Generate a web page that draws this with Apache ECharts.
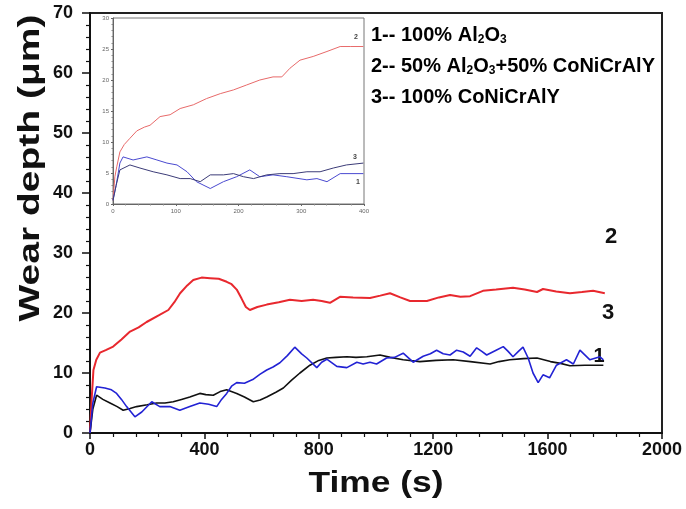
<!DOCTYPE html>
<html>
<head>
<meta charset="utf-8">
<script src="https://cdn.jsdelivr.net/npm/echarts@6.0.0/dist/echarts.min.js"></script>
<style>
  html, body { margin: 0; padding: 0; background: #fff; }
  #chart { width: 686px; height: 509px; }
</style>
</head>
<body>
<div id="chart"></div>
<script>
// Wear depth (µm) versus sliding time (s) for three coatings.
const FONT = 'Arial, "Liberation Sans", Helvetica, sans-serif';

// Main plot, full test (0–1800 s): [time, depth]
const mainAl2O3 = [
  [0, 0], [10, 4], [23, 6.3], [45, 5.6], [70, 5.0], [95, 4.4], [116, 3.8], [140, 4.1],
  [163, 4.4], [200, 4.7], [233, 5.0], [262, 5.0], [291, 5.2], [320, 5.6], [349, 6.0],
  [384, 6.6], [405, 6.4], [431, 6.3], [455, 6.9], [478, 7.2], [513, 6.6], [540, 6.0],
  [571, 5.2], [595, 5.5], [618, 6.0], [650, 6.8], [676, 7.5], [705, 8.8], [734, 10.0],
  [769, 11.3], [800, 12.1], [828, 12.5], [860, 12.6], [898, 12.7], [930, 12.6], [968, 12.7],
  [1014, 13.0], [1050, 12.6], [1095, 12.2], [1153, 11.9], [1210, 12.1], [1270, 12.2],
  [1330, 11.9], [1399, 11.5], [1430, 11.9], [1468, 12.2], [1515, 12.4], [1563, 12.5],
  [1610, 11.9], [1645, 11.6], [1678, 11.2], [1730, 11.3], [1795, 11.3]
];
const mainMixed = [
  [0, 0], [5, 5], [12, 10.5], [22, 12.2], [35, 13.4], [55, 13.8], [81, 14.4], [110, 15.6],
  [140, 16.9], [170, 17.6], [198, 18.5], [240, 19.6], [274, 20.5], [295, 21.8], [315, 23.3],
  [340, 24.6], [361, 25.5], [390, 25.9], [420, 25.8], [450, 25.7], [478, 25.2], [495, 24.8],
  [513, 23.9], [530, 22.4], [545, 21.0], [559, 20.5], [585, 21.0], [618, 21.4], [660, 21.8],
  [699, 22.2], [740, 22.0], [780, 22.2], [810, 22.0], [839, 21.7], [874, 22.7], [920, 22.6],
  [979, 22.5], [1015, 22.9], [1049, 23.3], [1085, 22.6], [1119, 22.0], [1178, 22.0],
  [1220, 22.6], [1259, 23.0], [1295, 22.7], [1329, 22.8], [1374, 23.7], [1420, 23.9],
  [1479, 24.2], [1520, 23.9], [1563, 23.5], [1584, 24.0], [1630, 23.6], [1678, 23.3],
  [1720, 23.5], [1759, 23.7], [1800, 23.3]
];
const mainCoNiCrAlY = [
  [0, 0], [10, 5], [23, 7.7], [52, 7.5], [75, 7.2], [93, 6.6], [110, 5.6], [128, 4.4],
  [157, 2.7], [181, 3.5], [216, 5.2], [244, 4.4], [279, 4.4], [314, 3.8], [349, 4.4],
  [384, 5.0], [415, 4.8], [443, 4.4], [460, 5.6], [478, 6.6], [495, 7.8], [513, 8.4],
  [540, 8.3], [569, 8.9], [595, 9.8], [618, 10.5], [640, 11.0], [664, 11.7], [690, 12.9],
  [716, 14.3], [740, 13.2], [758, 12.5], [793, 10.9], [810, 11.8], [828, 12.3], [863, 11.1],
  [898, 10.9], [933, 11.8], [955, 11.5], [979, 11.8], [1002, 11.5], [1037, 12.5],
  [1065, 12.6], [1095, 13.3], [1130, 11.8], [1165, 12.8], [1190, 13.2], [1212, 13.8],
  [1235, 13.2], [1259, 13.0], [1282, 13.8], [1305, 13.5], [1329, 12.8], [1352, 14.2],
  [1370, 13.6], [1387, 13.0], [1420, 13.8], [1445, 14.4], [1462, 13.6], [1479, 12.7],
  [1498, 13.6], [1514, 14.3], [1532, 12.5], [1549, 10.0], [1567, 8.4], [1584, 9.7],
  [1607, 9.2], [1631, 11.3], [1666, 12.2], [1690, 11.5], [1713, 13.8], [1748, 12.2],
  [1783, 12.7], [1795, 12.2]
];

// Inset, first 400 s: [time, depth]
const insetMixed = [
  [0, 0.6], [3, 4.4], [6, 6.0], [11, 8.4], [18, 9.6], [27, 10.6], [38, 11.8], [50, 12.4],
  [59, 12.7], [75, 14.1], [91, 14.4], [107, 15.4], [128, 16.0], [149, 17.0], [171, 17.8],
  [192, 18.4], [213, 19.2], [234, 20.0], [255, 20.5], [269, 20.5], [282, 21.9], [298, 23.2],
  [319, 23.8], [341, 24.6], [362, 25.4], [378, 25.4], [399, 25.4]
];
const insetAl2O3 = [
  [0, 0.6], [5, 3.0], [11, 6.6], [16, 7.6], [32, 7.1], [54, 7.6], [70, 7.1], [86, 6.6],
  [102, 6.3], [118, 5.2], [133, 3.6], [155, 2.5], [176, 3.6], [197, 4.4], [218, 5.5],
  [234, 4.4], [255, 4.7], [277, 4.4], [309, 3.9], [325, 4.1], [341, 3.6], [362, 4.9], [399, 4.9]
];
const insetCoNiCrAlY = [
  [0, 0.6], [5, 3.0], [11, 5.5], [27, 6.3], [43, 5.8], [64, 5.2], [86, 4.7], [107, 4.1],
  [123, 4.1], [139, 3.6], [155, 4.7], [176, 4.7], [192, 4.9], [208, 4.4], [224, 4.1],
  [245, 4.7], [266, 4.9], [287, 4.9], [309, 5.2], [330, 5.2], [351, 5.8], [372, 6.3], [399, 6.6]
];

// Axis ranges and tick spacing
const mainX = { min: 0, max: 2000, step: 400 };
const mainY = { min: 0, max: 70, step: 10 };
const insetX = { min: 0, max: 400, step: 100 };
const insetY = { min: 0, max: 30, step: 5 };

// Legend lines and curve numbers
const legendLines = [
  ['1-- 100% Al', '2', 'O', '3', ''],
  ['2-- 50% Al', '2', 'O', '3', '+50% CoNiCrAlY'],
  ['3-- 100% CoNiCrAlY']
];
const curveTags = ['1', '2', '3'];

const RED = '#e8282e', BLUE = '#2222d4', BLACK = '#111111';

function legendRich(parts) {
  if (parts.length === 1) return '{t|' + parts[0] + '}';
  return '{t|' + parts[0] + '}{s|' + parts[1] + '}{t|' + parts[2] + '}{s|' + parts[3] + '}' +
    (parts[4] ? '{t|' + parts[4] + '}' : '');
}

const chart = echarts.init(document.getElementById('chart'), null, { renderer: 'canvas' });

const plain = v => String(v);
const mainAxisText = { fontFamily: FONT, fontWeight: 'bold', fontSize: 18, color: '#111', formatter: plain };
const insetAxisText = { fontFamily: FONT, fontSize: 6, color: '#666', formatter: plain };

chart.setOption({
  animation: false,
  backgroundColor: '#fff',
  grid: [
    { left: 90, right: 24, top: 13, bottom: 76, show: true, borderColor: '#222', borderWidth: 2, backgroundColor: 'transparent' },
    { left: 113, right: 322, top: 18, bottom: 305, show: true, borderColor: '#777', borderWidth: 1, backgroundColor: '#fff' }
  ],
  xAxis: [
    {
      type: 'value', gridIndex: 0, min: mainX.min, max: mainX.max, interval: mainX.step,
      axisLine: { lineStyle: { color: '#111', width: 2 } },
      axisTick: { length: 6, lineStyle: { color: '#111', width: 1.5 } },
      minorTick: { show: true, splitNumber: 5, length: 4, lineStyle: { color: '#111', width: 1.2 } },
      splitLine: { show: false },
      axisLabel: Object.assign({ margin: 8 }, mainAxisText)
    },
    {
      type: 'value', gridIndex: 1, min: insetX.min, max: insetX.max, interval: insetX.step,
      axisLine: { lineStyle: { color: '#666', width: 1 } },
      axisTick: { length: 2, lineStyle: { color: '#666' } },
      minorTick: { show: true, splitNumber: 5, length: 1.5, lineStyle: { color: '#888' } },
      splitLine: { show: false },
      axisLabel: Object.assign({ margin: 4 }, insetAxisText)
    }
  ],
  yAxis: [
    {
      type: 'value', gridIndex: 0, min: mainY.min, max: mainY.max, interval: mainY.step,
      axisLine: { show: true, lineStyle: { color: '#111', width: 2 } },
      axisTick: { show: true, length: 8, lineStyle: { color: '#111', width: 1.5 } },
      minorTick: { show: true, splitNumber: 5, length: 4, lineStyle: { color: '#111', width: 1.2 } },
      splitLine: { show: false },
      axisLabel: Object.assign({ margin: 17 }, mainAxisText)
    },
    {
      type: 'value', gridIndex: 1, min: insetY.min, max: insetY.max, interval: insetY.step,
      axisLine: { show: true, lineStyle: { color: '#666', width: 1 } },
      axisTick: { show: true, length: 2, lineStyle: { color: '#666' } },
      minorTick: { show: true, splitNumber: 5, length: 1.5, lineStyle: { color: '#888' } },
      splitLine: { show: false },
      axisLabel: Object.assign({ margin: 4 }, insetAxisText)
    }
  ],
  series: [
    { name: '2', type: 'line', xAxisIndex: 0, yAxisIndex: 0, data: mainMixed, showSymbol: false,
      lineStyle: { color: RED, width: 2 } },
    { name: '1', type: 'line', xAxisIndex: 0, yAxisIndex: 0, data: mainAl2O3, showSymbol: false,
      lineStyle: { color: BLACK, width: 1.6 } },
    { name: '3', type: 'line', xAxisIndex: 0, yAxisIndex: 0, data: mainCoNiCrAlY, showSymbol: false,
      lineStyle: { color: BLUE, width: 1.6 } },
    { name: 'i2', type: 'line', xAxisIndex: 1, yAxisIndex: 1, data: insetMixed, showSymbol: false,
      lineStyle: { color: '#e86a6a', width: 1 } },
    { name: 'i1', type: 'line', xAxisIndex: 1, yAxisIndex: 1, data: insetAl2O3, showSymbol: false,
      lineStyle: { color: '#4a4ad0', width: 1 } },
    { name: 'i3', type: 'line', xAxisIndex: 1, yAxisIndex: 1, data: insetCoNiCrAlY, showSymbol: false,
      lineStyle: { color: '#3c3c78', width: 1 } }
  ],
  graphic: [
    // axis titles
    { type: 'text', x: 31, y: 168, rotation: Math.PI / 2, scaleX: 1.3,
      style: { text: 'Wear depth (\u03bcm)', font: 'bold 30px ' + FONT, fill: '#111',
        align: 'center', verticalAlign: 'middle' } },
    { type: 'text', x: 376, y: 484, scaleX: 1.18,
      style: { text: 'Time (s)', font: 'bold 30px ' + FONT, fill: '#111',
        align: 'center', verticalAlign: 'middle' } },
    // legend
    ...legendLines.map((parts, i) => ({
      type: 'text', x: 371, y: [35, 66, 97][i],
      style: {
        text: legendRich(parts), align: 'left', verticalAlign: 'middle',
        rich: {
          t: { fontFamily: FONT, fontWeight: 'bold', fontSize: 20, color: '#111', lineHeight: 22 },
          s: { fontFamily: FONT, fontWeight: 'bold', fontSize: 12, color: '#111', lineHeight: 13, verticalAlign: 'bottom' }
        }
      }
    })),
    // curve numbers on main plot
    { type: 'text', x: 611, y: 237, style: { text: curveTags[1], font: 'bold 22px ' + FONT, fill: '#111', align: 'center', verticalAlign: 'middle' } },
    { type: 'text', x: 608, y: 313, style: { text: curveTags[2], font: 'bold 22px ' + FONT, fill: '#111', align: 'center', verticalAlign: 'middle' } },
    { type: 'text', x: 599, y: 356, style: { text: curveTags[0], font: 'bold 20px ' + FONT, fill: '#111', align: 'center', verticalAlign: 'middle' } },
    // curve numbers on inset
    { type: 'text', x: 356, y: 37, style: { text: curveTags[1], font: 'bold 7px ' + FONT, fill: '#444', align: 'center', verticalAlign: 'middle' } },
    { type: 'text', x: 355, y: 157, style: { text: curveTags[2], font: 'bold 7px ' + FONT, fill: '#444', align: 'center', verticalAlign: 'middle' } },
    { type: 'text', x: 358, y: 182, style: { text: curveTags[0], font: 'bold 7px ' + FONT, fill: '#444', align: 'center', verticalAlign: 'middle' } }
  ]
});
</script>
</body>
</html>
